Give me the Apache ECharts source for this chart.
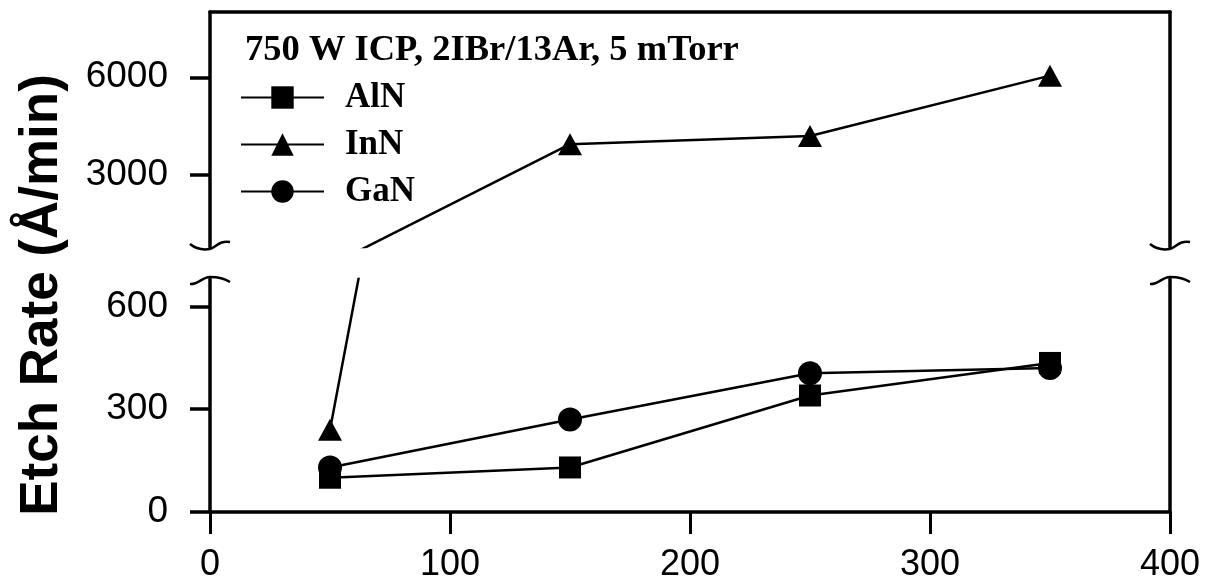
<!DOCTYPE html>
<html>
<head>
<meta charset="utf-8">
<script src="https://cdn.jsdelivr.net/npm/echarts@6/dist/echarts.min.js"></script>
<style>
  html, body { margin: 0; padding: 0; background: #fff; }
  #chart { width: 1205px; height: 586px; }
</style>
</head>
<body>
<div id="chart"></div>
<script>
// x positions of the measurements
const powers = [50, 150, 250, 350];
// Etch rates in Å/min
const alnRates = [100, 130, 340, 435];
const innRates = [240, 3950, 4200, 6050];
const ganRates = [130, 270, 405, 420];
// Axis ticks
const xTicks = [0, 100, 200, 300, 400];
const upperTicks = [3000, 6000];
const lowerTicks = [0, 300, 600];
// Text
const seriesNames = ['AlN', 'InN', 'GaN'];
const titleText = '750 W ICP, 2IBr/13Ar, 5 mTorr';
const yTitle = 'Etch Rate (Å/min)';

const INK = '#000';
const SANS = 'Liberation Sans';
const SERIF = 'Liberation Serif';

const chart = echarts.init(document.getElementById('chart'), null, { renderer: 'canvas' });

const frameLine = { show: true, onZero: false, lineStyle: { color: INK, width: 3.5 } };
const noSplit = { show: false };
const plainNumber = v => String(v);

const markerStyle = {
  AlN: { symbol: 'rect', symbolSize: 22 },
  InN: { symbol: 'triangle', symbolSize: [24, 22] },
  GaN: { symbol: 'circle', symbolSize: 24 }
};
const rateSets = { AlN: alnRates, InN: innRates, GaN: ganRates };

function lineSeries(name, xAxisIndex, yAxisIndex) {
  return {
    name: name,
    type: 'line',
    xAxisIndex: xAxisIndex,
    yAxisIndex: yAxisIndex,
    data: powers.map((p, k) => [p, rateSets[name][k]]),
    symbol: markerStyle[name].symbol,
    symbolSize: markerStyle[name].symbolSize,
    clip: true,
    lineStyle: { color: INK, width: 2.5 },
    itemStyle: { color: INK },
    emphasis: { disabled: true },
    animation: false
  };
}

const series = [
  // lower panel: all three materials
  lineSeries('AlN', 1, 2),
  lineSeries('InN', 1, 2),
  lineSeries('GaN', 1, 2),
  // upper panel: only InN reaches this range
  lineSeries('InN', 0, 0)
];

chart.setOption({
  backgroundColor: '#fff',
  animation: false,
  title: {
    text: titleText,
    left: 245,
    top: 33,
    padding: 0,
    textStyle: { fontFamily: SERIF, fontWeight: 'bold', fontSize: 36.5, color: INK, lineHeight: 36 }
  },
  legend: {
    data: seriesNames,
    orient: 'vertical',
    left: 240,
    top: 80,
    padding: 0,
    itemWidth: 83,
    itemHeight: 28,
    itemGap: 12,
    selectedMode: false,
    textStyle: {
      fontFamily: SERIF, fontWeight: 'bold', fontSize: 35, color: INK,
      lineHeight: 28, padding: [0, 0, 0, 16]
    }
  },
  grid: [
    { left: 210, right: 35, top: 12, height: 235 },
    { left: 210, right: 35, top: 279, bottom: 74 }
  ],
  xAxis: [
    {
      gridIndex: 0, type: 'value', min: 0, max: 400, position: 'top',
      axisLine: frameLine, axisTick: { show: false }, axisLabel: { show: false }, splitLine: noSplit
    },
    {
      gridIndex: 1, type: 'value', min: 0, max: 400, interval: 100, position: 'bottom',
      axisLine: frameLine,
      axisTick: { show: true, inside: false, length: 22, customValues: xTicks, lineStyle: { color: INK, width: 3 } },
      axisLabel: { customValues: xTicks, formatter: plainNumber, fontFamily: SANS, fontSize: 36, color: INK, margin: 35 },
      splitLine: noSplit
    }
  ],
  yAxis: [
    {
      gridIndex: 0, type: 'value', min: 800, max: 8000, position: 'left',
      axisLine: frameLine,
      axisTick: { show: true, inside: false, length: 20, customValues: upperTicks, lineStyle: { color: INK, width: 3.5 } },
      axisLabel: { customValues: upperTicks, formatter: plainNumber, fontFamily: SANS, fontSize: 37, color: INK, margin: 42 },
      splitLine: noSplit
    },
    {
      gridIndex: 0, type: 'value', min: 800, max: 8000, position: 'right',
      axisLine: frameLine, axisTick: { show: false }, axisLabel: { show: false }, splitLine: noSplit
    },
    {
      gridIndex: 1, type: 'value', min: 0, max: 680, position: 'left',
      axisLine: frameLine,
      axisTick: { show: true, inside: false, length: 20, customValues: lowerTicks, lineStyle: { color: INK, width: 3.5 } },
      axisLabel: { customValues: lowerTicks, formatter: plainNumber, fontFamily: SANS, fontSize: 37, color: INK, margin: 42 },
      splitLine: noSplit
    },
    {
      gridIndex: 1, type: 'value', min: 0, max: 680, position: 'right',
      axisLine: frameLine, axisTick: { show: false }, axisLabel: { show: false }, splitLine: noSplit
    }
  ],
  series: series
});

// Curly break marks where each panel's side lines stop: two bezier pieces per mark
function curve(x1, y1, c1x, c1y, c2x, c2y, x2, y2) {
  return {
    type: 'bezierCurve',
    shape: { x1: x1, y1: y1, cpx1: c1x, cpy1: c1y, cpx2: c2x, cpy2: c2y, x2: x2, y2: y2 },
    style: { fill: null, stroke: INK, lineWidth: 2.5 },
    silent: true
  };
}

function breakMark(pt, lower) {
  const x = pt[0], y = pt[1];
  if (lower) {
    return [
      curve(x - 20, y + 5, x - 12, y + 6, x - 8, y - 2, x, y - 2),
      curve(x, y - 2, x + 8, y - 2, x + 14, y - 1, x + 20, y + 3)
    ];
  }
  return [
    curve(x - 20, y - 3, x - 14, y + 2, x - 6, y + 3, x, y + 2),
    curve(x, y + 2, x + 6, y, x + 10, y - 7, x + 20, y - 5)
  ];
}

const upperFinder = { xAxisIndex: 0, yAxisIndex: 0 };
const lowerFinder = { xAxisIndex: 1, yAxisIndex: 2 };
const upperLeft = chart.convertToPixel(upperFinder, [0, 800]);
const upperRight = chart.convertToPixel(upperFinder, [400, 800]);
const lowerLeft = chart.convertToPixel(lowerFinder, [0, 680]);
const lowerRight = chart.convertToPixel(lowerFinder, [400, 680]);

chart.setOption({
  graphic: [
    {
      type: 'text',
      x: 42,
      y: 295,
      rotation: Math.PI / 2,
      style: {
        text: yTitle,
        font: `bold 53px "${SANS}"`,
        fill: INK,
        align: 'center',
        verticalAlign: 'middle'
      },
      silent: true
    }
  ].concat(
    breakMark(upperLeft, false),
    breakMark(upperRight, false),
    breakMark(lowerLeft, true),
    breakMark(lowerRight, true)
  )
});
</script>
</body>
</html>
